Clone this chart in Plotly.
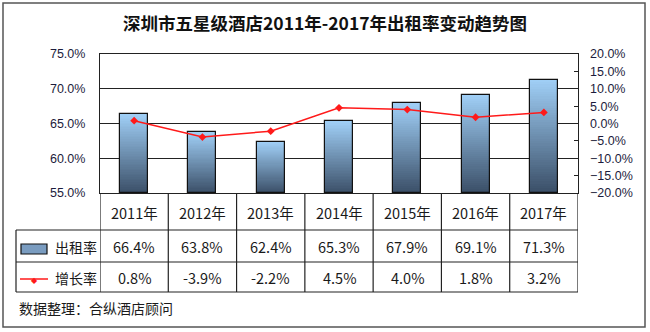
import plotly.graph_objects as go

# ---- data ----
years = ["2011年", "2012年", "2013年", "2014年", "2015年", "2016年", "2017年"]
occupancy = [66.4, 63.8, 62.4, 65.3, 67.9, 69.1, 71.3]      # 出租率 (%)
growth = [0.8, -3.9, -2.2, 4.5, 4.0, 1.8, 3.2]               # 增长率 (%)
title_text = "深圳市五星级酒店2011年-2017年出租率变动趋势图"
source_text = "数据整理：合纵酒店顾问"
series_names = ["出租率", "增长率"]

W, H = 650, 332
L, R, T, B = 100, 578, 54, 193   # plot area in pixels
PW, PH = R - L, B - T

def px(x):
    return (x - L) / PW

def py(y):
    return (B - y) / PH

occ_f = [v / 100 for v in occupancy]
gr_f = [v / 100 for v in growth]
xs = list(range(len(years)))
base = 0.55
BAR_W = 0.41

top_rgb = (160, 207, 247)
bot_rgb = (58, 78, 102)

fig = go.Figure()

# gradient bars built from stacked segments
N = 48
for k in range(N):
    t = (k + 0.5) / N
    c = tuple(int(round(bot_rgb[i] + (top_rgb[i] - bot_rgb[i]) * t)) for i in range(3))
    fig.add_trace(go.Bar(
        x=xs, y=[(v - base) / N for v in occ_f],
        base=[base + k * (v - base) / N for v in occ_f],
        width=BAR_W, marker=dict(color="rgb(%d,%d,%d)" % c, line=dict(width=0)),
        showlegend=False, hoverinfo="skip"))
# outline
fig.add_trace(go.Bar(
    x=xs, y=[v - base for v in occ_f], base=[base] * len(occ_f), width=BAR_W,
    marker=dict(color="rgba(0,0,0,0)", line=dict(color="#111111", width=1.2)),
    name=series_names[0], showlegend=False))

fig.add_trace(go.Scatter(
    x=xs, y=gr_f, yaxis="y2", mode="lines+markers",
    line=dict(color="#FF1A1A", width=1.5),
    marker=dict(color="#FF1A1A", size=6, symbol="diamond"),
    name=series_names[1], showlegend=False))

shapes = []
line_col = "#222222"
# outer border
shapes.append(dict(type="rect", xref="paper", yref="paper",
                   x0=px(3), x1=px(645), y0=py(327), y1=py(3),
                   line=dict(color="#555555", width=1.5)))
# table vertical lines
for i in range(len(years) + 1):
    shapes.append(dict(type="line", xref="x", yref="paper",
                       x0=i - 0.5, x1=i - 0.5, y0=py(193), y1=py(292),
                       line=dict(color=line_col, width=1.2)))
shapes.append(dict(type="line", xref="paper", yref="paper",
                   x0=px(16), x1=px(16), y0=py(230), y1=py(292),
                   line=dict(color=line_col, width=1.2)))
for yy in (230, 262, 292):
    shapes.append(dict(type="line", xref="paper", yref="paper",
                       x0=px(16), x1=1, y0=py(yy), y1=py(yy),
                       line=dict(color=line_col, width=1.2)))
# legend swatches
shapes.append(dict(type="rect", xref="paper", yref="paper",
                   x0=px(21), x1=px(47), y0=py(254), y1=py(244),
                   fillcolor="#7A9CC0", line=dict(color="#111111", width=1.2)))
shapes.append(dict(type="line", xref="paper", yref="paper",
                   x0=px(20), x1=px(48), y0=py(279), y1=py(279),
                   line=dict(color="#FF1A1A", width=1.5)))

annotations = []
cjk = "Noto Sans CJK SC"
txt_col = "#1a1a1a"
TS = 14.5
annotations.append(dict(text="<b>%s</b>" % title_text, xref="paper", yref="paper",
                        x=px(325), y=py(22), showarrow=False,
                        font=dict(family=cjk, size=17.5, color="#111111"),
                        xanchor="center", yanchor="middle"))
for i, yr in enumerate(years):
    annotations.append(dict(text=yr, xref="x", yref="paper", x=i, y=py(212),
                            showarrow=False, font=dict(family=cjk, size=TS, color=txt_col),
                            xanchor="center", yanchor="middle"))
    annotations.append(dict(text="%.1f%%" % occupancy[i], xref="x", yref="paper", x=i, y=py(246),
                            showarrow=False, font=dict(family=cjk, size=TS, color=txt_col),
                            xanchor="center", yanchor="middle"))
    annotations.append(dict(text="%.1f%%" % growth[i], xref="x", yref="paper", x=i, y=py(277),
                            showarrow=False, font=dict(family=cjk, size=TS, color=txt_col),
                            xanchor="center", yanchor="middle"))
annotations.append(dict(text=series_names[0], xref="paper", yref="paper", x=px(53), y=py(247),
                        showarrow=False, font=dict(family=cjk, size=14, color=txt_col),
                        xanchor="left", yanchor="middle"))
annotations.append(dict(text=series_names[1], xref="paper", yref="paper", x=px(53), y=py(278),
                        showarrow=False, font=dict(family=cjk, size=14, color=txt_col),
                        xanchor="left", yanchor="middle"))
annotations.append(dict(text="◆", xref="paper", yref="paper", x=px(34), y=py(279),
                        showarrow=False, font=dict(size=8, color="#FF1A1A"),
                        xanchor="center", yanchor="middle"))
annotations.append(dict(text=source_text, xref="paper", yref="paper", x=px(17), y=py(308),
                        showarrow=False, font=dict(family=cjk, size=14, color=txt_col),
                        xanchor="left", yanchor="middle"))

axis_font = dict(family="Liberation Sans, Arial", size=12.5, color="#1c1c3c")
fig.update_layout(
    width=W, height=H,
    margin=dict(l=L, r=W - R, t=T, b=H - B, pad=0),
    paper_bgcolor="white", plot_bgcolor="white",
    barmode="overlay", bargap=0,
    showlegend=False,
    xaxis=dict(range=[-0.5, len(years) - 0.5], showticklabels=False, showgrid=False,
               zeroline=False, showline=True, mirror=True, linecolor=line_col, linewidth=1.2,
               ticks="", fixedrange=True),
    yaxis=dict(range=[0.55, 0.75], tickvals=[0.55, 0.60, 0.65, 0.70, 0.75],
               tickformat=".1%", showgrid=True, gridcolor=line_col, gridwidth=1.2,
               zeroline=False, showline=True, mirror=True, linecolor=line_col, linewidth=1.2,
               ticks="", tickfont=axis_font, ticklabelstandoff=11),
    yaxis2=dict(range=[-0.20, 0.20], dtick=0.05, tick0=0, tickformat=".1%",
                overlaying="y", side="right", showgrid=False, zeroline=False,
                showline=False, ticks="inside", ticklen=4, tickcolor=line_col,
                tickfont=axis_font, ticklabelstandoff=11),
    shapes=shapes, annotations=annotations,
)

fig.write_html("out.html")
